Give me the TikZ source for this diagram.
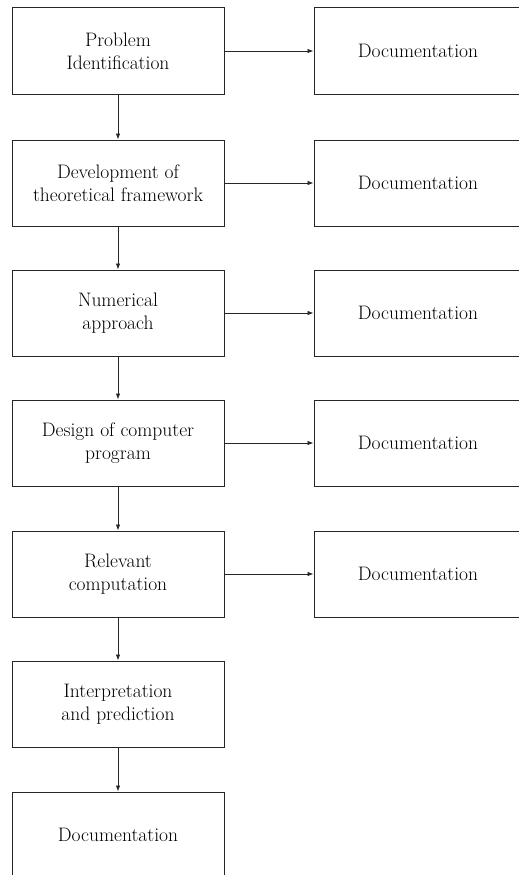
\documentclass[tikz,border=0pt]{standalone}
\usetikzlibrary{arrows.meta}
\begin{document}
\begin{tikzpicture}[x=1pt,y=-1pt,
  lbox/.style={draw=black!85, line width=1pt, minimum width=212pt, minimum height=86pt, inner sep=0pt, align=center, font=\fontsize{19.5}{23}\selectfont, text=black},
  rbox/.style={lbox, minimum width=208pt},
  arr/.style={draw=black!85, line width=0.8pt, -{Latex[length=6pt,width=4.5pt]}}]
\useasboundingbox (0,0) rectangle (519,875);
\clip (0,0) rectangle (519,875);
\node[lbox] (p1) at (118,51) {Problem\\Identification};
\node[lbox] (p2) at (118,183) {Development of\\theoretical framework};
\node[lbox] (p3) at (118,313) {Numerical\\approach};
\node[lbox] (p4) at (118,443) {Design of computer\\program};
\node[lbox] (p5) at (118,574) {Relevant\\computation};
\node[lbox] (p6) at (118,704) {Interpretation\\and prediction};
\node[lbox] (p7) at (118,835) {Documentation};
\node[rbox] (d1) at (418,51) {Documentation};
\node[rbox] (d2) at (418,183) {Documentation};
\node[rbox] (d3) at (418,313) {Documentation};
\node[rbox] (d4) at (418,443) {Documentation};
\node[rbox] (d5) at (418,574) {Documentation};
\foreach \a/\b in {p1/p2,p2/p3,p3/p4,p4/p5,p5/p6,p6/p7} \draw[arr] (\a) -- (\b);
\foreach \a/\b in {p1/d1,p2/d2,p3/d3,p4/d4,p5/d5} \draw[arr] (\a) -- (\b);
\end{tikzpicture}
\end{document}
